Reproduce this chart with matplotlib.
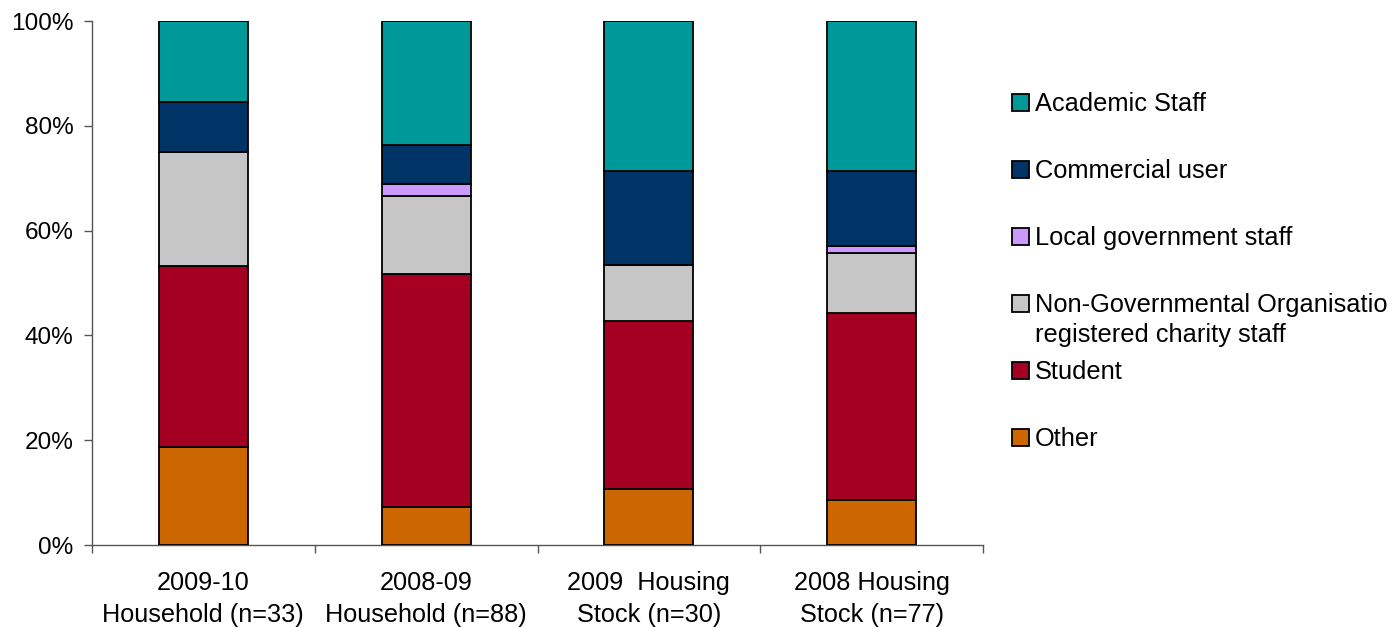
import numpy as np
import matplotlib.pyplot as plt
from matplotlib.patches import Rectangle

plt.rcParams['font.family'] = ['Liberation Sans', 'DejaVu Sans']

# categories along x
groups = ['2009-10\nHousehold (n=33)', '2008-09\nHousehold (n=88)',
          '2009  Housing\nStock (n=30)', '2008 Housing\nStock (n=77)']

# stacked from the bottom up (percent of each bar)
other = [18.75, 7.3, 10.7, 8.6]
student = [34.4, 44.4, 32.1, 35.7]
ngo = [21.9, 14.9, 10.7, 11.4]
local_gov = [0.0, 2.3, 0.0, 1.4]
commercial = [9.4, 7.5, 17.9, 14.3]
academic = [15.55, 23.6, 28.6, 28.6]

series = [
    ('Other', other, '#CC6600'),
    ('Student', student, '#A50021'),
    ('Non-Governmental Organisation or\nregistered charity staff', ngo, '#C6C6C6'),
    ('Local government staff', local_gov, '#CC99FF'),
    ('Commercial user', commercial, '#003366'),
    ('Academic Staff', academic, '#009999'),
]

W, H = 1388, 627
fig = plt.figure(figsize=(W / 100, H / 100), dpi=100)
ax = fig.add_axes([92 / W, 1 - 545 / H, (983 - 92) / W, (545 - 21) / H])

x = np.arange(len(groups))
bottom = np.zeros(len(groups))
for name, vals, col in series:
    vals = np.array(vals)
    ax.bar(x, vals, 0.4, bottom=bottom, color=col, edgecolor='black',
           linewidth=1.3, zorder=3)
    bottom += vals

ax.set_xlim(-0.5, len(groups) - 0.5)
ax.set_ylim(0, 100)
ax.set_yticks(np.arange(0, 101, 20))
ax.set_yticklabels([f'{v}%' for v in range(0, 101, 20)])
ax.set_xticks(x)
ax.set_xticklabels(groups, linespacing=1.4)
ax.set_xticks(np.arange(-0.5, len(groups), 1.0), minor=True)

for s in ['top', 'right']:
    ax.spines[s].set_visible(False)
for s in ['left', 'bottom']:
    ax.spines[s].set_color('#555555')
    ax.spines[s].set_linewidth(1.0)

ax.tick_params(axis='y', direction='out', length=5.5, width=1.0,
               color='#555555', labelsize=17.6, pad=8)
ax.tick_params(axis='x', which='major', length=0, labelsize=18.2, pad=19)
ax.tick_params(axis='x', which='minor', direction='out', length=5.5,
               width=1.0, color='#555555')

# legend, top entry first
y_px = 102
for name, vals, col in series[::-1]:
    fig.add_artist(Rectangle((1012 / W, 1 - (y_px + 8.5) / H), 17 / W, 17 / H,
                             facecolor=col, edgecolor='black', linewidth=1.3,
                             transform=fig.transFigure))
    fig.text(1035 / W, 1 - (y_px - 10) / H, name, fontsize=18.3, va='top',
             ha='left', linespacing=1.3)
    y_px += 67

fig.savefig('out.png', dpi=100)
